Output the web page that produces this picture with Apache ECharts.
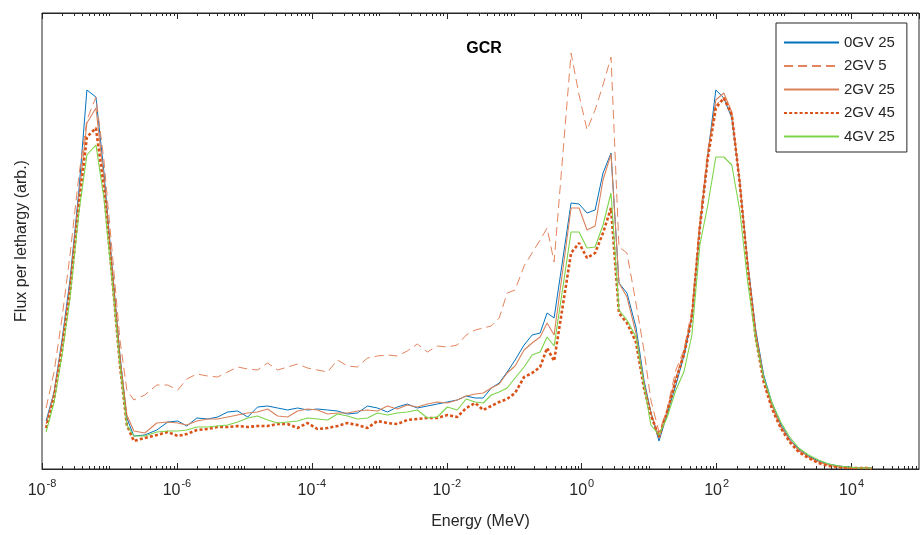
<!DOCTYPE html>
<html>
<head>
<meta charset="utf-8">
<script src="https://cdn.jsdelivr.net/npm/echarts@6/dist/echarts.min.js"></script>
<style>
  html, body { margin: 0; padding: 0; background: #ffffff; }
  #chart { width: 922px; height: 535px; }
</style>
</head>
<body>
<div id="chart"></div>
<script>
// Energy bins (MeV), shared by all spectra
const energy = [
  1.15e-8, 1.51e-8, 1.98e-8, 2.60e-8, 3.53e-8, 4.63e-8, 6.30e-8, 8.27e-8, 1.09e-7, 1.43e-7, 1.81e-7, 2.30e-7,
  3.34e-7, 5.03e-7, 7.32e-7, 1.03e-6, 1.40e-6, 1.97e-6, 2.86e-6, 4.02e-6, 5.65e-6, 7.95e-6,
  1.12e-5, 1.57e-5, 2.21e-5, 3.11e-5, 4.37e-5, 6.14e-5, 8.63e-5, 1.21e-4, 1.71e-4, 2.40e-4,
  3.37e-4, 4.74e-4, 6.67e-4, 9.37e-4, 1.32e-3, 1.85e-3, 2.60e-3, 3.66e-3, 5.15e-3, 7.24e-3, 1.02e-2, 1.43e-2,
  1.94e-2, 2.64e-2, 3.47e-2, 4.56e-2, 5.98e-2, 7.86e-2, 0.103, 0.140, 0.184, 0.242, 0.307, 0.390,
  0.696, 0.914, 1.20, 1.58, 2.07, 2.72, 3.57, 4.69, 6.37, 8.37, 10.6, 14.0,
  18.3, 24.9, 32.7, 43.0, 56.4, 74.1, 97.3, 128, 168, 220,
  289, 380, 499, 656, 891, 1210, 1650, 2310, 3250, 4580, 6430, 9040, 12700, 16700, 19800
];

// Flux per lethargy (arbitrary units)
const flux0GV25 = [
  48, 77, 129, 189, 279, 379, 372, 297, 204, 114, 51, 33,
  34, 39, 47, 48, 43, 51, 50, 52, 57, 58, 52, 62, 63, 61, 59, 61, 59, 60, 59, 58,
  55, 56, 63, 61, 57, 62, 65, 61, 63, 65, 67, 69,
  73, 71, 71, 81, 86, 97, 109, 124, 134, 136, 156, 151,
  266, 265, 256, 259, 296, 316, 186, 176, 142, 89, 57, 28,
  54, 84, 113, 151, 241, 314, 379, 371, 351, 287, 207, 139, 94, 67, 45, 30, 20, 13, 8, 5, 3, 2, 1, 1, 1
];
const flux2GV5 = [
  61, 97, 151, 214, 294, 349, 372, 309, 219, 129, 79, 69,
  74, 84, 84, 79, 90, 95, 93, 92, 97, 102, 100, 99, 106, 99, 102, 105, 101, 99, 97, 109,
  103, 102, 111, 113, 114, 113, 118, 125, 117, 123, 122, 124,
  134, 139, 141, 143, 151, 176, 179, 203, 216, 229, 241, 207,
  416, 374, 339, 359, 384, 412, 222, 216, 166, 119, 69, 37,
  59, 99, 119, 159, 249, 319, 364, 372, 354, 289, 204, 134, 89, 62, 42, 28, 18, 12, 7, 4, 2, 1, 1, 1, 1
];
const flux2GV25 = [
  45, 76, 126, 184, 274, 346, 361, 291, 201, 111, 54, 38,
  36, 46, 47, 46, 44, 48, 50, 50, 52, 54, 56, 57, 60, 53, 52, 58, 60, 59, 55, 56,
  56, 58, 59, 58, 63, 60, 64, 62, 65, 67, 66, 69,
  73, 75, 76, 81, 85, 96, 103, 119, 126, 132, 146, 134,
  261, 261, 239, 243, 289, 315, 186, 172, 136, 86, 56, 32,
  57, 91, 117, 154, 244, 314, 369, 376, 357, 287, 204, 136, 91, 64, 43, 29, 19, 12, 7, 4, 2, 1, 1, 1, 1
];
const flux2GV45 = [
  41, 71, 119, 177, 264, 332, 341, 281, 194, 104, 44, 28,
  31, 34, 37, 33, 35, 39, 40, 42, 42, 43, 42, 43, 43, 45, 45, 41, 46, 40, 41, 43,
  46, 44, 41, 48, 46, 45, 49, 50, 51, 51, 54, 52,
  61, 66, 59, 63, 67, 70, 76, 92, 96, 102, 121, 108,
  216, 226, 211, 216, 236, 261, 156, 146, 127, 81, 54, 32,
  56, 89, 114, 151, 241, 311, 361, 371, 354, 286, 201, 131, 87, 61, 41, 27, 17, 11, 6, 3, 2, 1, 1, 1, 0
];
const flux4GV25 = [
  37, 67, 114, 171, 257, 314, 324, 271, 189, 104, 44, 33,
  33, 37, 38, 38, 39, 42, 42, 43, 44, 47, 51, 53, 49, 46, 47, 48, 51, 50, 49, 55,
  53, 50, 51, 56, 54, 56, 57, 59, 51, 52, 62, 59,
  70, 67, 66, 74, 77, 81, 91, 102, 114, 117, 132, 123,
  237, 237, 221, 222, 244, 276, 159, 149, 132, 84, 44, 34,
  51, 79, 97, 134, 224, 264, 312, 312, 304, 259, 187, 129, 91, 67, 47, 32, 21, 14, 9, 5, 3, 2, 1, 1, 1
];

const seriesNames = ['0GV 25', '2GV 5', '2GV 25', '2GV 45', '4GV 25'];
const labelExponents = [-8, -6, -4, -2, 0, 2, 4];

const FONT = '"Liberation Sans", Arial, Helvetica, sans-serif';
const INK = '#262626';

// Minor tick positions (log10 space): 2..9 x 10^n plus the unlabeled decades
const minorTickExp = [];
for (let n = -8; n <= 4; n++) {
  if (labelExponents.indexOf(n) < 0) minorTickExp.push(n);
  for (let k = 2; k <= 9; k++) minorTickExp.push(n + Math.log10(k));
}

function pairs(values) {
  return values.map((v, i) => [energy[i], v]);
}

function expLabel(v) {
  const e = Math.round(Math.log10(v));
  if (labelExponents.indexOf(e) < 0) return '';
  return '{b|10}{s|' + e + '}';
}

const logAxisBase = {
  type: 'log',
  logBase: 10,
  min: 1e-8,
  max: 1e5,
  interval: 2,
  axisLine: { show: true, onZero: false, lineStyle: { color: INK, width: 1 } },
  axisTick: { show: true, inside: true, length: 6, lineStyle: { color: INK, width: 1 } },
  splitLine: { show: false },
  minorTick: { show: false }
};

const minorAxisBase = {
  type: 'value',
  min: -8,
  max: 5,
  axisLine: { show: false, onZero: false },
  axisLabel: { show: false },
  splitLine: { show: false },
  axisTick: { show: true, inside: true, length: 3, customValues: minorTickExp, lineStyle: { color: INK, width: 1 } }
};

const chart = echarts.init(document.getElementById('chart'), null, { renderer: 'canvas' });

chart.setOption({
  animation: false,
  backgroundColor: '#ffffff',
  title: {
    text: 'GCR',
    left: 479,
    top: 36,
    textAlign: 'center',
    textStyle: { fontFamily: FONT, fontSize: 16, fontWeight: 'bold', color: '#000000' }
  },
  grid: {
    left: 42, right: 3, top: 13, bottom: 66,
    show: true, borderColor: INK, borderWidth: 1, backgroundColor: 'transparent'
  },
  legend: {
    orient: 'vertical',
    left: 776,
    top: 23,
    itemWidth: 55,
    itemHeight: 14,
    itemGap: 8.5,
    padding: [12, 12, 8, 7],
    borderColor: INK,
    borderWidth: 1,
    backgroundColor: '#ffffff',
    itemStyle: { opacity: 0 },
    textStyle: { fontFamily: FONT, fontSize: 15, color: INK },
    data: seriesNames
  },
  xAxis: [
    Object.assign({}, logAxisBase, {
      position: 'bottom',
      name: 'Energy (MeV)',
      nameLocation: 'middle',
      nameGap: 45,
      nameTextStyle: { fontFamily: FONT, fontSize: 16, color: INK },
      axisLabel: {
        show: true,
        margin: 6,
        showMaxLabel: false,
        formatter: expLabel,
        rich: {
          b: { fontFamily: FONT, fontSize: 16, color: INK, lineHeight: 24, verticalAlign: 'bottom' },
          s: { fontFamily: FONT, fontSize: 11, color: INK, lineHeight: 24, verticalAlign: 'top', padding: [3, 0, 0, 1] }
        }
      }
    }),
    Object.assign({}, logAxisBase, { position: 'top', axisLabel: { show: false } }),
    Object.assign({}, minorAxisBase, { position: 'bottom' }),
    Object.assign({}, minorAxisBase, { position: 'top' })
  ],
  yAxis: {
    type: 'value',
    min: 0,
    max: 456,
    name: 'Flux per lethargy (arb.)',
    nameLocation: 'middle',
    nameGap: 12,
    nameTextStyle: { fontFamily: FONT, fontSize: 16, color: INK },
    axisLine: { show: false, onZero: false },
    axisTick: { show: false },
    axisLabel: { show: false },
    splitLine: { show: false }
  },
  series: [
    {
      name: seriesNames[0], type: 'line', xAxisIndex: 0, symbol: 'none', data: pairs(flux0GV25),
      lineStyle: { color: '#0072BD', width: 1 }, itemStyle: { color: '#0072BD' }
    },
    {
      name: seriesNames[1], type: 'line', xAxisIndex: 0, symbol: 'none', data: pairs(flux2GV5),
      lineStyle: { color: '#E3845E', width: 1, type: [9, 5] }, itemStyle: { color: '#E3845E' }
    },
    {
      name: seriesNames[2], type: 'line', xAxisIndex: 0, symbol: 'none', data: pairs(flux2GV25),
      lineStyle: { color: '#D9825C', width: 1.1 }, itemStyle: { color: '#D9825C' }
    },
    {
      name: seriesNames[3], type: 'line', xAxisIndex: 0, symbol: 'none', data: pairs(flux2GV45),
      lineStyle: { color: '#D95319', width: 2.6, type: [3, 2.2] }, itemStyle: { color: '#D95319' }
    },
    {
      name: seriesNames[4], type: 'line', xAxisIndex: 0, symbol: 'none', data: pairs(flux4GV25),
      lineStyle: { color: '#7CD44C', width: 1.1 }, itemStyle: { color: '#7CD44C' }
    }
  ]
});
</script>
</body>
</html>
